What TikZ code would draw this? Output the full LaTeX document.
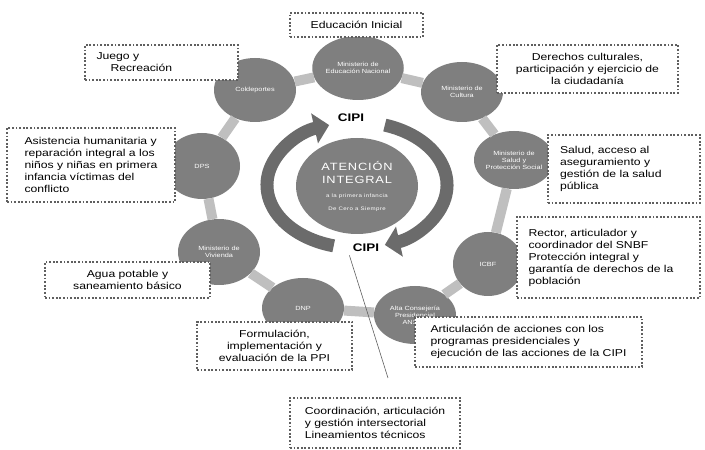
\documentclass[tikz,border=0pt]{standalone}
\usepackage{fontspec}
\setmainfont{Liberation Sans}[FakeStretch=1.22]
\usetikzlibrary{arrows.meta,shapes.geometric}
\definecolor{figCircle}{HTML}{7F7F7F}
\definecolor{figRing}{HTML}{BFBFBF}
\definecolor{figArrow}{HTML}{6B6B6B}
\definecolor{figBorder}{HTML}{5F5F5F}

\begin{document}
\begin{tikzpicture}[x=1pt, y=1pt,
  every node/.style={font=\fontsize{10}{12}\selectfont},
  entity/.style={
    ellipse, fill=figCircle, minimum width=82pt, minimum height=64pt,
    inner sep=0pt, text=white, align=center, font=\fontsize{6}{7}\selectfont,
  },
  core/.style={entity, minimum width=122pt, minimum height=96pt,
    font=\fontsize{10.5}{13}\selectfont\addfontfeature{LetterSpace=8}},
  link/.style={figRing, line width=10pt},
  cycle/.style={figArrow, line width=13pt, -{Triangle[length=15pt, width=30pt]}},
  role/.style={
    draw=figBorder, line width=1.8pt, dash pattern=on 1.8pt off 1.8pt,
    fill=white, inner xsep=10pt, inner ysep=3pt,
  },
  cipi/.style={font=\fontsize{11}{12}\selectfont\bfseries},
]
\useasboundingbox (0,0) rectangle (705,450);

% Entities around the ring
\node[entity] (edu) at (358,382) {Ministerio de\\Educación Nacional};
\node[entity] (dep) at (255,360) {Coldeportes};
\node[entity, minimum width=76pt, minimum height=66pt] (dps) at (202,284) {DPS};
\node[entity, minimum height=66pt] (viv) at (219,198) {Ministerio de\\Vivienda};
\node[entity, minimum height=60pt] (dnp) at (303,142) {DNP};
\node[entity, minimum height=58pt] (pres) at (415,135) {Alta Consejería\\Presidencial\\ANSPE};
\node[entity, minimum width=70pt, minimum height=64pt] (icbf) at (488,186) {ICBF};
\node[entity, minimum width=68pt, minimum height=58pt] (salud) at (514,290) {Ministerio de\\Salud y\\Protección Social};
\node[entity, minimum height=60pt] (cult) at (462,358) {Ministerio de\\Cultura};

% Ring pieces
\foreach \a/\b in {edu/dep, dep/dps, dps/viv, viv/dnp, dnp/pres, pres/icbf, icbf/salud, salud/cult, cult/edu}
  \draw[link] (\a) -- (\b);

% Centre
\node[core] (core) at (357,264) {ATENCIÓN\\INTEGRAL\\[1pt]\fontsize{5}{6}\selectfont a la primera infancia\\\fontsize{5}{6}\selectfont De Cero a Siempre};

% Cycle arrows
\draw[cycle] (357,265) ++(255:90 and 63) arc[start angle=255, end angle=108, x radius=90, y radius=63];
\draw[cycle] (357,265) ++(72:90 and 63) arc[start angle=72, end angle=-72, x radius=90, y radius=63];

\node[cipi] (cipiT) at (351,332) {CIPI};
\node[cipi] (cipiB) at (366,202) {CIPI};
\coordinate (lineEnd) at (388,72);
\draw[figBorder, line width=0.6pt] (cipiB.south west) -- (lineEnd);

% Roles
\node[role, minimum width=133pt, minimum height=24pt, align=center] (rEdu) at (356.5,425) {Educación Inicial};
\node[role, minimum width=153pt, minimum height=35pt, text width=130pt, align=left] (rDep) at (161.5,387.5) {Juego y\\\hspace*{14pt}Recreación};
\node[role, minimum width=168pt, minimum height=74pt, align=left] (rDps) at (91,285) {Asistencia humanitaria y\\reparación integral a los\\niños y niñas en primera\\infancia víctimas del\\conflicto};
\node[role, minimum width=181pt, minimum height=48pt, align=center] (rCult) at (587.5,381) {Derechos culturales,\\participación y ejercicio de\\la ciudadanía};
\node[role, minimum width=152pt, minimum height=68pt, text width=128pt, align=left] (rSalud) at (624,281) {Salud, acceso al\\aseguramiento y\\gestión de la salud\\pública};
\node[role, minimum width=183pt, minimum height=81pt, text width=160pt, align=left] (rIcbf) at (608.5,192.5) {Rector, articulador y\\coordinador del SNBF\\Protección integral y\\garantía de derechos de la\\población};
\node[role, minimum width=227pt, minimum height=50pt, align=left] (rPres) at (528.5,108) {Articulación de acciones con los\\programas presidenciales y\\ejecución de las acciones de la CIPI};
\node[role, minimum width=155pt, minimum height=48pt, align=center] (rDnp) at (274.5,104) {Formulación,\\implementación y\\evaluación de la PPI};
\node[role, minimum width=165pt, minimum height=36pt, align=center] (rViv) at (127.5,170) {Agua potable y\\saneamiento básico};
\node[role, minimum width=170pt, minimum height=50pt, align=left] (rCoord) at (375,27) {Coordinación, articulación\\y gestión intersectorial\\Lineamientos técnicos};

\end{tikzpicture}
\end{document}
